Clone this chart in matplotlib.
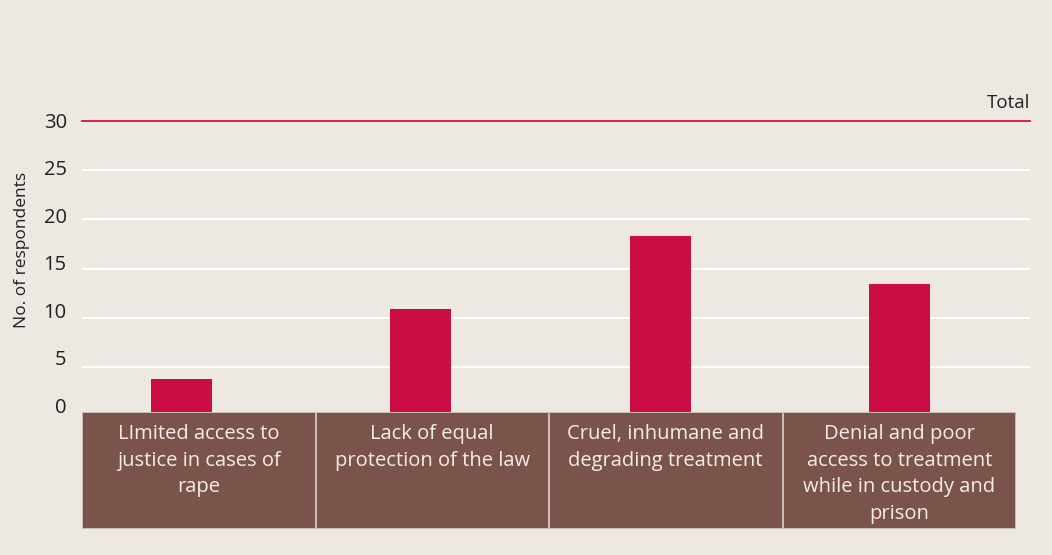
import matplotlib
matplotlib.use("Agg")
import matplotlib.pyplot as plt

categories = [
    "LImited access to\njustice in cases of\nrape",
    "Lack of equal\nprotection of the law",
    "Cruel, inhumane and\ndegrading treatment",
    "Denial and poor\naccess to treatment\nwhile in custody and\nprison",
]
values = [3.8, 10.9, 18.3, 13.4]
total_value = 30
total_label = "Total"
y_ticks = [0, 5, 10, 15, 20, 25, 30]
y_label = "No. of respondents"

BG = "#ede8e1"
BAR = "#cc0c45"
BOX = "#7a534b"
LINE = "#d4124a"
TXT = "#231f20"

plt.rcParams["font.family"] = ["Open Sans", "DejaVu Sans"]

W, H = 1052, 555
fig = plt.figure(figsize=(W / 100, H / 100), dpi=100, facecolor=BG)

def frac(x0, y0, x1, y1):
    return [x0 / W, 1 - y1 / H, (x1 - x0) / W, (y1 - y0) / H]

# main plot area
ax = fig.add_axes(frac(82, 120.5, 1030, 416.6))
ax.set_facecolor(BG)
ax.set_xlim(-0.4158, 3.5458)
ax.set_ylim(0, 30)
for s in ax.spines.values():
    s.set_visible(False)
ax.set_xticks([])
ax.set_yticks([])
for t in y_ticks[1:-1]:
    ax.axhline(t, color="white", lw=1.6, zorder=1)
ax.axhline(total_value, color=LINE, lw=1.3, zorder=3, clip_on=False)
ax.text(1.0, total_value + 1.27, total_label, transform=ax.get_yaxis_transform(),
        ha="right", va="baseline", fontsize=13.5, color=TXT)

pos = list(range(len(values)))
ax.bar(pos, values, width=0.255, color=BAR, zorder=2)

# tick labels (slightly offset scale as in the reference)
ax2 = fig.add_axes(frac(82, 120.5, 1030, 416.6))
ax2.patch.set_visible(False)
ax2.set_ylim(-1.21, 29.74)
ax2.set_xticks([])
ax2.set_yticks(y_ticks)
ax2.set_yticklabels([str(t) for t in y_ticks], fontsize=14.5, color=TXT)
ax2.tick_params(axis="y", length=0, pad=11)
for s in ax2.spines.values():
    s.set_visible(False)
ax2.set_ylabel(y_label, fontsize=12.5, color=TXT)
ax2.yaxis.set_label_coords(-0.055, 0.563)

# category box
bx = fig.add_axes(frac(82, 412, 1016, 529))
bx.set_xlim(0, len(categories))
bx.set_ylim(0, 1)
bx.axis("off")
bx.bar(range(len(categories)), [1] * len(categories), width=1.0, align="edge",
       color=BOX, edgecolor="#cdbfb7", linewidth=1.4)
for i, c in enumerate(categories):
    bx.text(i + 0.5, 0.895, c, ha="center", va="top", fontsize=14.5,
            color="#f3eee8", linespacing=1.44)

fig.savefig("out.png", dpi=100, facecolor=BG)
